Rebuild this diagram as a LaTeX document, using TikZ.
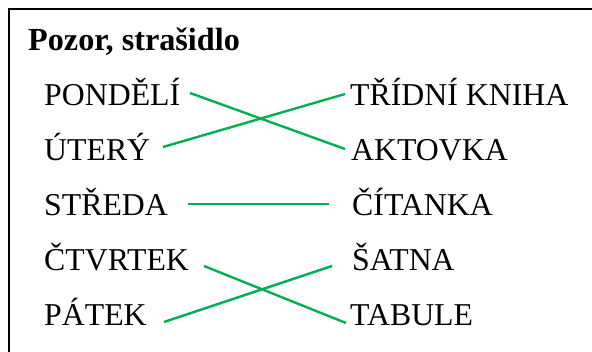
\documentclass[tikz,border=0pt]{standalone}
\usepackage{fontspec}
\setmainfont{Liberation Serif}
\definecolor{lgreen}{HTML}{00B050}
\begin{document}
\begin{tikzpicture}[x=1pt,y=-1pt,
  word/.style={anchor=base west,inner sep=0pt,font=\fontsize{31.8}{36}\selectfont},
  title/.style={anchor=base west,inner sep=0pt,font=\fontsize{32.2}{36}\selectfont\bfseries},
  link/.style={draw=lgreen,line width=2.4pt}]
\useasboundingbox (0,0) rectangle (592,351);
\draw[line width=2pt] (9,352) -- (9,9) -- (593,9);
\node[title] (t) at (28,50) {Pozor, strašidlo};
\node[word] (l1) at (44,105) {PONDĚLÍ};
\node[word] (l2) at (44,160) {ÚTERÝ};
\node[word] (l3) at (44,215) {STŘEDA};
\node[word] (l4) at (44,270) {ČTVRTEK};
\node[word] (l5) at (44,325) {PÁTEK};
\node[word] (r1) at (350,105) {TŘÍDNÍ KNIHA};
\node[word] (r2) at (351,160) {AKTOVKA};
\node[word] (r3) at (352,215) {ČÍTANKA};
\node[word] (r4) at (352,270) {ŠATNA};
\node[word] (r5) at (350,325) {TABULE};
\coordinate (a1) at (190,93);  \coordinate (b2) at (345,149);
\coordinate (a2) at (163,147); \coordinate (b1) at (345,94);
\coordinate (a3) at (188,204); \coordinate (b3) at (329,204);
\coordinate (a4) at (204,266); \coordinate (b5) at (346,323);
\coordinate (a5) at (164,322); \coordinate (b4) at (332,266);
\draw[link] (a1) -- (b2);
\draw[link] (a2) -- (b1);
\draw[link] (a3) -- (b3);
\draw[link] (a4) -- (b5);
\draw[link] (a5) -- (b4);
\end{tikzpicture}
\end{document}
